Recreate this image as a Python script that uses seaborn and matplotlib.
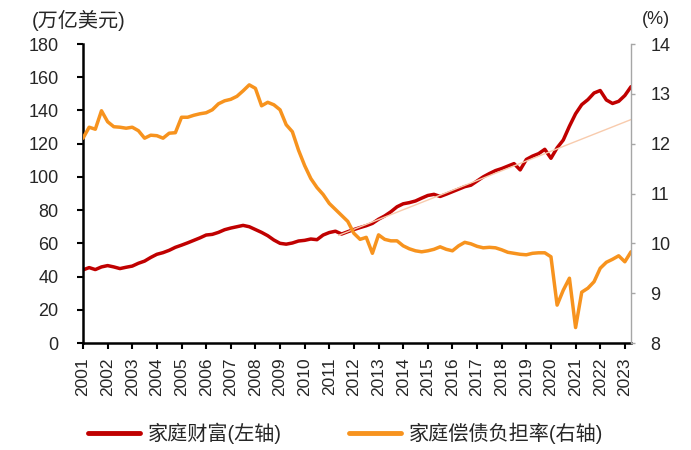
import numpy as np
import pandas as pd
import matplotlib
matplotlib.use("Agg")
import matplotlib.pyplot as plt
import seaborn as sns
from matplotlib.lines import Line2D

# quarterly data, 2001Q1 - 2023Q2
years = [str(y) for y in range(2001, 2024)]

wealth = [44.0, 45.4, 44.2, 45.8, 46.6, 45.8, 44.8, 45.6, 46.3, 48.0,
          49.3, 51.5, 53.4, 54.4, 55.8, 57.6, 58.9, 60.3, 61.8, 63.3,
          65.0, 65.4, 66.6, 68.2, 69.2, 70.0, 70.8, 70.0, 68.3, 66.6,
          64.6, 62.0, 60.0, 59.5, 60.2, 61.4, 61.8, 62.6, 62.2, 65.0,
          66.5, 67.3, 65.6, 67.0, 68.3, 69.5, 70.6, 72.0, 74.5, 76.5,
          79.0, 82.0, 83.8, 84.5, 85.5, 87.2, 88.8, 89.5, 88.2, 89.6,
          91.1, 92.6, 94.1, 95.0, 97.5, 100.0, 102.0, 103.8, 105.0, 106.5,
          108.0, 104.2, 110.5, 112.5, 114.0, 116.6, 111.2, 117.5, 122.2, 130.5,
          138.0, 143.5, 146.5, 150.5, 152.0, 146.3, 144.2, 145.5, 149.0, 154.3]

debt_ratio = [12.11, 12.33, 12.29, 12.66, 12.44, 12.34, 12.33, 12.31, 12.33, 12.26,
              12.11, 12.17, 12.16, 12.11, 12.21, 12.22, 12.53, 12.53, 12.57, 12.60,
              12.62, 12.68, 12.80, 12.86, 12.89, 12.95, 13.06, 13.18, 13.11, 12.76,
              12.83, 12.78, 12.68, 12.38, 12.24, 11.87, 11.56, 11.30, 11.12, 10.98,
              10.80, 10.68, 10.56, 10.44, 10.20, 10.08, 10.12, 9.80, 10.17, 10.08,
              10.05, 10.05, 9.95, 9.89, 9.85, 9.83, 9.85, 9.88, 9.93, 9.88,
              9.85, 9.95, 10.02, 9.99, 9.94, 9.91, 9.92, 9.91, 9.87, 9.82,
              9.80, 9.78, 9.77, 9.80, 9.81, 9.81, 9.73, 8.76, 9.06, 9.30,
              8.31, 9.02, 9.10, 9.23, 9.50, 9.62, 9.68, 9.75, 9.63, 9.83]

# linear trend of wealth since 2011
trend_q = [41.5, 89]
trend_val = [64.8, 134.5]

quarter = np.arange(len(wealth))

sns.set_style("white")
plt.rcParams['font.family'] = ['Liberation Sans', 'Noto Sans CJK SC', 'DejaVu Sans']

fig = plt.figure(figsize=(6.91, 4.5), dpi=100)
ax = fig.add_axes([83/691, 1-343/450, (631-83)/691, (343-44)/450])
ax2 = ax.twinx()

red = '#C00000'
orange = '#F7931E'

sns.lineplot(x=quarter, y=wealth, ax=ax, color=red, lw=2.5, zorder=2)
sns.lineplot(x=trend_q, y=trend_val, ax=ax, color='#F8CBAD', lw=1.0, zorder=3)
sns.lineplot(x=quarter, y=debt_ratio, ax=ax2, color=orange, lw=2.5)

ax.set_xlim(0, len(wealth) - 1)
ax.set_ylim(0, 180)
ax.set_yticks(range(0, 181, 20))
ax2.set_ylim(8, 14)
ax2.set_yticks(range(8, 15))
ax.set_xticks(range(0, len(wealth), 4))
ax.set_xticklabels(years, rotation=90, fontsize=12.5)
ax.set_xlabel('')
ax.set_ylabel('')
ax2.set_ylabel('')

ax.spines['top'].set_visible(False)
ax2.spines['top'].set_visible(False)
ax2.spines['left'].set_visible(False)
ax2.spines['bottom'].set_visible(False)
ax.spines['right'].set_visible(False)
ax.spines['left'].set_color('black')
ax.spines['left'].set_linewidth(1.8)
ax.spines['bottom'].set_color('black')
ax.spines['bottom'].set_linewidth(1.8)
ax2.spines['right'].set_color('#A6A6A6')
ax2.spines['right'].set_linewidth(1.0)

ax.tick_params(axis='y', direction='out', length=4.5, width=1.5, color='black',
               labelsize=13, pad=13, left=True)
ax.tick_params(axis='x', direction='out', length=4.5, width=1.5, color='black',
               pad=6, bottom=True)
ax2.tick_params(axis='y', direction='out', length=3, width=1.0, color='#A6A6A6',
                labelsize=13, pad=11, right=True)

fig.text(32/691, 1-20/450, '(万亿美元)', fontsize=14.5, va='center', ha='left')
fig.text(642/691, 1-19/450, '(%)', fontsize=13, va='center', ha='left')

handles = [Line2D([], [], color=red, lw=3.5),
           Line2D([], [], color=orange, lw=3.5)]
labels = ['家庭财富(左轴)', '家庭偿债负担率(右轴)']
fig.legend(handles, labels, loc='center', bbox_to_anchor=(0.5, 1-433/450), ncol=2,
           frameon=False, fontsize=14.5, handlelength=2.6, handletextpad=0.4,
           columnspacing=3.3)

fig.savefig('out.png', dpi=100)
